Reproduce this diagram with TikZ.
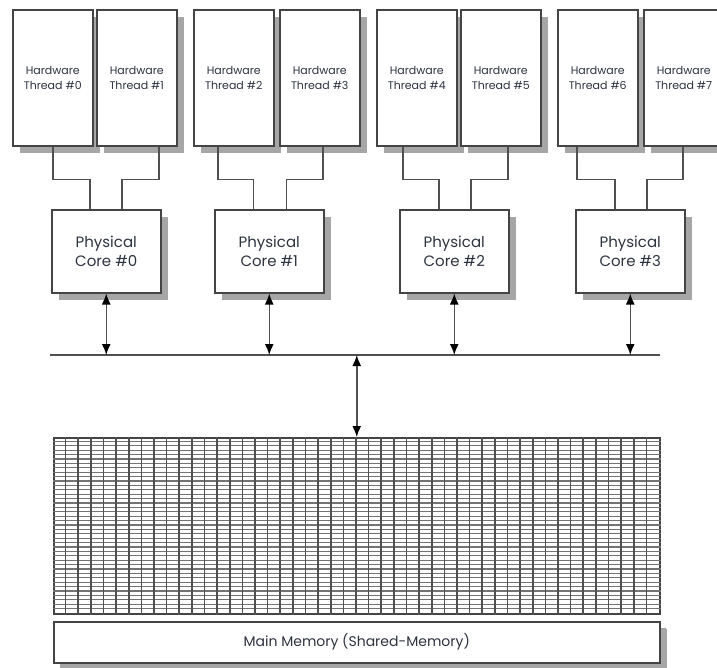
\documentclass[tikz,border=0pt]{standalone}
\usepackage{fontspec}
\setmainfont{Poppins}
\usetikzlibrary{arrows.meta,calc,shadows}
\definecolor{Ink}{HTML}{2E3340}
\definecolor{Edge}{HTML}{444444}
\definecolor{Wire}{HTML}{505050}
\definecolor{Shade}{HTML}{A6A6A6}

\begin{document}
\begin{tikzpicture}[x=1pt, y=-1pt, >={Latex[length=11pt,width=9pt,color=black]},
    box/.style={draw=Edge, line width=1.5pt, fill=white, inner sep=0pt, anchor=north west, text=Ink,
      drop shadow={shadow xshift=7pt, shadow yshift=-7pt, fill=Shade, opacity=1}},
    thread/.style={box, minimum width=80pt, minimum height=136pt, align=center, font=\fontsize{11}{15}\selectfont},
    core/.style={box, minimum width=109pt, minimum height=83pt, align=center, font=\fontsize{15}{19}\selectfont},
    wire/.style={draw=Wire, line width=1.5pt}]
    \fill[white] (0,0) rectangle (717,667);
    \clip (0,0) rectangle (717,667);

    % hardware threads
    \node[thread] (t0) at (12,9) {Hardware\\Thread \#0};
    \node[thread] (t1) at (96,9) {Hardware\\Thread \#1};
    \node[thread] (t2) at (193,9) {Hardware\\Thread \#2};
    \node[thread] (t3) at (279,9) {Hardware\\Thread \#3};
    \node[thread] (t4) at (376,9) {Hardware\\Thread \#4};
    \node[thread] (t5) at (460,9) {Hardware\\Thread \#5};
    \node[thread] (t6) at (557,9) {Hardware\\Thread \#6};
    \node[thread] (t7) at (643,9) {Hardware\\Thread \#7};

    % physical cores
    \node[core] (c0) at (51,209) {Physical\\Core \#0};
    \node[core] (c1) at (214,209) {Physical\\Core \#1};
    \node[core] (c2) at (399,209) {Physical\\Core \#2};
    \node[core] (c3) at (575,209) {Physical\\Core \#3};

    \draw[wire] (t0.south) -- ++(0,33) -| ([xshift=-16.5pt]c0.north);
    \draw[wire] ([xshift=22pt]t1.south) -- ++(0,33) -| ([xshift=15.5pt]c0.north);
    \draw[wire] ([xshift=-16pt]t2.south) -- ++(0,33) -| ([xshift=-16pt]c1.north);
    \draw[wire] ([xshift=3pt]t3.south) -- ++(0,33) -| ([xshift=17pt]c1.north);
    \draw[wire] ([xshift=-14pt]t4.south) -- ++(0,33) -| ([xshift=-15.5pt]c2.north);
    \draw[wire] ([xshift=7pt]t5.south) -- ++(0,33) -| ([xshift=16.5pt]c2.north);
    \draw[wire] ([xshift=-21pt]t6.south) -- ++(0,33) -| ([xshift=-15.5pt]c3.north);
    \draw[wire] ([xshift=-1pt]t7.south) -- ++(0,33) -| ([xshift=16.5pt]c3.north);

    % bus
    \coordinate (bl) at (50,355);
    \coordinate (br) at (660,355);
    \draw[wire] (bl) -- (br);
    \draw[wire, <->] (c0.south) -- (c0.south |- bl);
    \draw[wire, <->] (c1.south) -- (c1.south |- bl);
    \draw[wire, <->] (c2.south) -- (c2.south |- bl);
    \draw[wire, <->] (c3.south) -- (c3.south |- bl);

    % memory cells
    \node[draw=Edge, line width=1.5pt, inner sep=0pt, anchor=north west, minimum width=606pt, minimum height=176pt] (g) at (53,437) {};
    \foreach \j in {1,...,39}
      \draw[black!55, line width=1.1pt] ($(g.north west)+(0,\j*4.4)$) -- ($(g.north east)+(0,\j*4.4)$);
    \foreach \i in {1,...,47}
      \draw[Wire, line width=1.6pt] ($(g.north west)+(\i*12.625,0)$) -- ($(g.south west)+(\i*12.625,0)$);
    \draw[wire, <->] (g.north |- bl) -- (g.north);

    \node[box, minimum width=606pt, minimum height=41pt, font=\fontsize{14}{16}\selectfont,
      drop shadow={shadow xshift=6pt, shadow yshift=-6pt, fill=Shade, opacity=1}] (mem) at (53,621) {Main Memory (Shared-Memory)};
\end{tikzpicture}
\end{document}
